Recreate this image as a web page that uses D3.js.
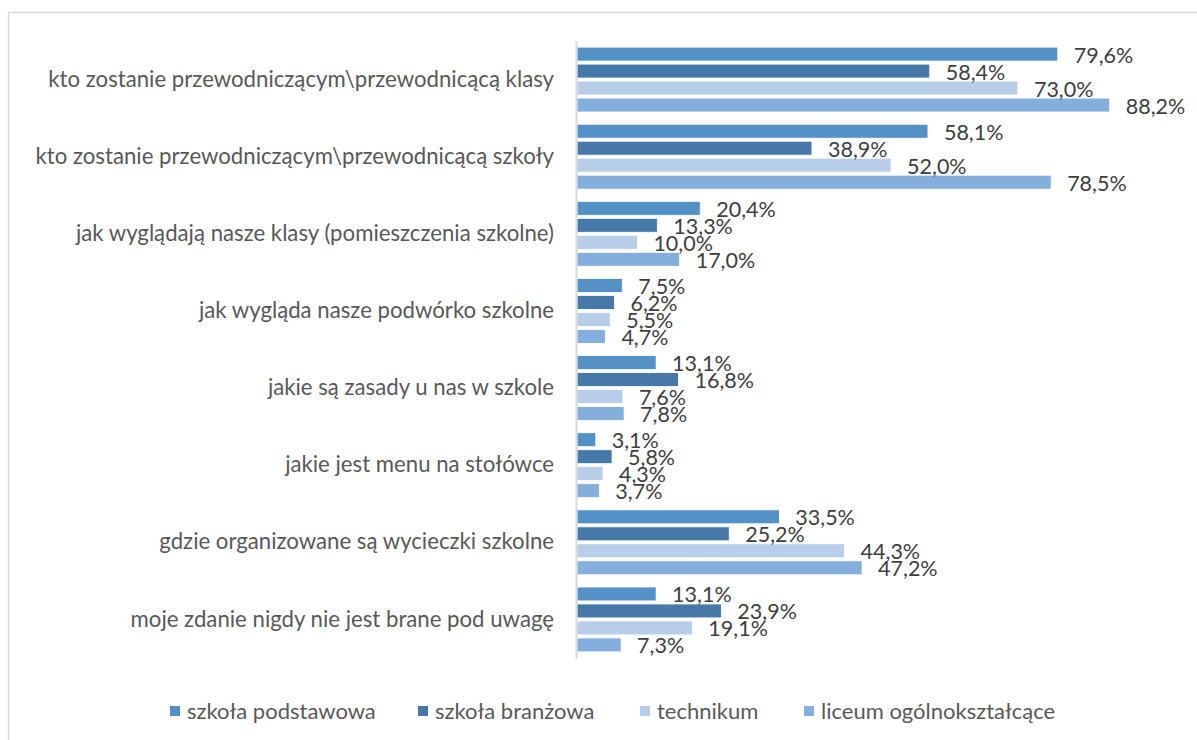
<!DOCTYPE html>
<html>
<head>
<meta charset="utf-8">
<script src="https://cdn.jsdelivr.net/npm/d3@7"></script>
<style>
    body { margin: 0; background: #ffffff; }
    svg { display: block; }
</style>
</head>
<body>
<svg id="drawing_region"></svg>
<script>
const categories = [
    "kto zostanie przewodniczącym\\przewodnicącą klasy",
    "kto zostanie przewodniczącym\\przewodnicącą szkoły",
    "jak wyglądają nasze klasy (pomieszczenia szkolne)",
    "jak wygląda nasze podwórko szkolne",
    "jakie są zasady u nas w szkole",
    "jakie jest menu na stołówce",
    "gdzie organizowane są wycieczki szkolne",
    "moje zdanie nigdy nie jest brane pod uwagę"
];
const seriesNames = ["szkoła podstawowa", "szkoła branżowa", "technikum", "liceum ogólnokształcące"];
const podstawowa = [79.6, 58.1, 20.4, 7.5, 13.1, 3.1, 33.5, 13.1];
const branzowa   = [58.4, 38.9, 13.3, 6.2, 16.8, 5.8, 25.2, 23.9];
const technikum  = [73.0, 52.0, 10.0, 5.5, 7.6, 4.3, 44.3, 19.1];
const liceum     = [88.2, 78.5, 17.0, 4.7, 7.8, 3.7, 47.2, 7.3];
const colors = ["#5391c7", "#4679a8", "#b7cde8", "#84aedc"];

class GroupedBarChart {

    constructor( config, data ) {
        this.config = {
            parent: config.parent,
            width: config.width || 1197,
            height: config.height || 740,
            left: config.left || 577,
            top: config.top || 41,
            plot_width: config.plot_width || 604,
            plot_height: config.plot_height || 617
        };
        this.data = data;
        this.init();
    }

    init() {
        let self = this;
        self.svg = d3.select( self.config.parent )
            .attr( 'width', self.config.width )
            .attr( 'height', self.config.height );

        // chart frame, runs off the right and bottom edge
        self.svg.append( 'rect' )
            .attr( 'x', 8.5 ).attr( 'y', 12.5 )
            .attr( 'width', 1200 ).attr( 'height', 740 )
            .attr( 'fill', 'none' )
            .attr( 'stroke', '#d9d9d9' )
            .attr( 'stroke-width', 1.5 );

        self.yscale = d3.scaleBand()
            .domain( categories )
            .range( [self.config.top, self.config.top + self.config.plot_height] );
        self.inner = d3.scaleBand()
            .domain( seriesNames )
            .range( [0, self.yscale.bandwidth()] )
            .paddingInner( 0.18 )
            .paddingOuter( 0.36 );
        self.xscale = d3.scaleLinear()
            .domain( [0, 100] )
            .range( [self.config.left, self.config.left + self.config.plot_width] );

        self.format = d3.formatLocale( {decimal: ",", thousands: " ", grouping: [3], currency: ["", " zł"]} ).format( ".1f" );
        self.render();
    }

    render() {
        let self = this;

        const groups = self.svg.selectAll( 'g.group' )
            .data( self.data )
            .enter()
            .append( 'g' )
            .attr( 'class', 'group' )
            .attr( 'transform', d => `translate(0,${self.yscale( d.category )})` );

        groups.selectAll( 'rect' )
            .data( d => d.values )
            .enter()
            .append( 'rect' )
            .attr( 'x', self.xscale( 0 ) )
            .attr( 'y', d => self.inner( d.series ) )
            .attr( 'width', d => self.xscale( d.value ) - self.xscale( 0 ) )
            .attr( 'height', self.inner.bandwidth() )
            .attr( 'fill', d => d.color )
            .attr( 'stroke', '#ffffff' )
            .attr( 'stroke-width', 0.8 );

        groups.selectAll( 'text.value' )
            .data( d => d.values )
            .enter()
            .append( 'text' )
            .attr( 'class', 'value' )
            .attr( 'x', d => self.xscale( d.value ) + 16 )
            .attr( 'y', d => self.inner( d.series ) + self.inner.bandwidth() / 2 + 1 )
            .attr( 'dy', '0.35em' )
            .attr( 'font-family', 'Lato, sans-serif' )
            .attr( 'font-size', 21.5 )
            .attr( 'fill', '#404040' )
            .text( d => self.format( d.value ) + '%' );

        // category labels
        const yaxis = d3.axisLeft( self.yscale ).tickSize( 0 ).tickPadding( 22 );
        const yaxis_group = self.svg.append( 'g' )
            .attr( 'transform', `translate(${self.config.left - 1},0)` )
            .call( yaxis );
        yaxis_group.select( '.domain' )
            .attr( 'stroke', '#d9d9d9' )
            .attr( 'stroke-width', 2 );
        yaxis_group.selectAll( 'text' )
            .attr( 'font-family', 'Lato, sans-serif' )
            .attr( 'font-size', 22.2 )
            .attr( 'fill', '#595959' );

        // legend
        const legend_x = [170, 418, 640, 804];
        const legend = self.svg.selectAll( 'g.legend' )
            .data( seriesNames )
            .enter()
            .append( 'g' )
            .attr( 'class', 'legend' )
            .attr( 'transform', (d, i) => `translate(${legend_x[i]},711)` );
        legend.append( 'rect' )
            .attr( 'x', 0 ).attr( 'y', -5 )
            .attr( 'width', 10 ).attr( 'height', 10 )
            .attr( 'fill', (d, i) => colors[i] );
        legend.append( 'text' )
            .attr( 'x', 17 )
            .attr( 'dy', '0.35em' )
            .attr( 'font-family', 'Lato, sans-serif' )
            .attr( 'font-size', 22 )
            .attr( 'fill', '#595959' )
            .text( d => d );
    }
}

const allSeries = [podstawowa, branzowa, technikum, liceum];
const data = categories.map( (c, i) => ({
    category: c,
    values: seriesNames.map( (s, j) => ({ series: s, value: allSeries[j][i], color: colors[j] }) )
}) );

const chart = new GroupedBarChart( { parent: '#drawing_region' }, data );
</script>
</body>
</html>
